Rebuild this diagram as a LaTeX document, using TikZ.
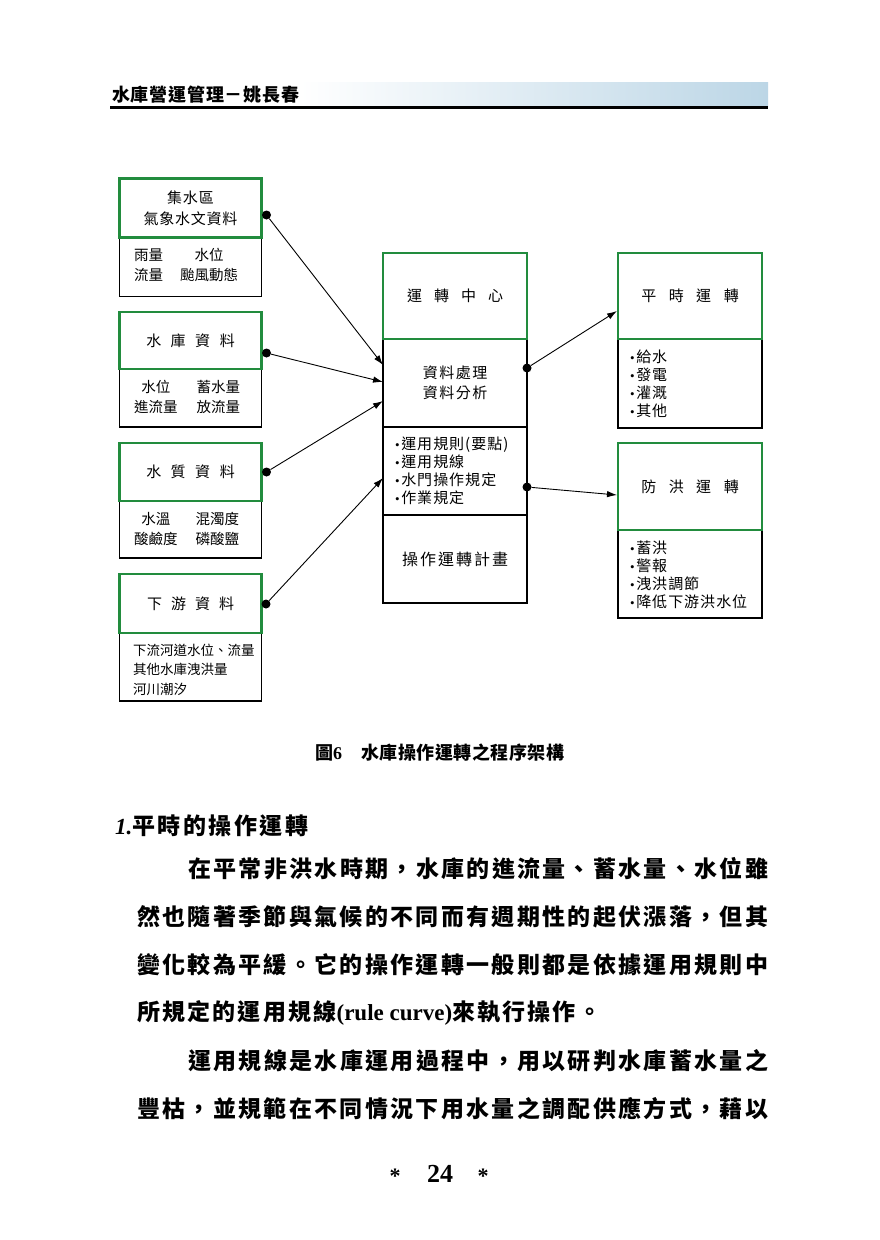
\documentclass[tikz,border=0pt]{standalone}
\usepackage{fontspec}
\setmainfont{Liberation Serif}
\newfontfamily\cjk{Noto Sans CJK TC}
\usetikzlibrary{arrows.meta}
\definecolor{gbord}{RGB}{34,140,62}
\definecolor{hblue}{RGB}{188,214,230}
\newcommand{\fsz}[2]{\fontsize{#1}{#2}\selectfont}
% spread characters with a gap between each pair
\def\spxEnd{SPXEND}
\def\spx#1#2{\def\spxGap{\hspace*{#1}}\spxA#2\spxEnd}
\def\spxA#1{\ifx#1\spxEnd\else#1\expandafter\spxB\fi}
\def\spxB#1{\ifx#1\spxEnd\else\spxGap#1\expandafter\spxB\fi}
\newcommand{\jline}[2]{\makebox[#1][s]{\spx{0pt plus 1fil}{#2}}}
\newcommand{\bl}{{\rmfamily\fsz{13}{13}•}\hspace{1.5pt}}
\newcommand{\bi}[1]{\bl\spx{1pt}{#1}}
\tikzset{
  gbox/.style={draw=gbord, line width=2.8pt, fill=white, inner sep=0pt, align=center},
  kbox/.style={draw=black, line width=1.1pt, fill=white, inner sep=0pt},
  dotn/.style={circle, fill=black, inner sep=0pt, minimum size=9pt},
  arr/.style={draw=black, line width=0.9pt, -{Latex[length=10pt,width=6.5pt]}},
  ttl/.style={font={\cjk\fsz{15}{21}}},
  subtxt/.style={inner sep=0pt, anchor=west, font={\cjk\fsz{14.5}{20}}},
  listtxt/.style={inner sep=0pt, anchor=west, align=left, font={\cjk\fsz{15}{18}}},
  body/.style={inner sep=0pt, anchor=west, font={\cjk\bfseries\fsz{23}{23}}},
}
\begin{document}
\begin{tikzpicture}[x=1pt,y=-1pt]
\useasboundingbox (0,0) rectangle (880,1240);
\fill[white] (0,0) rectangle (880,1240);
% header
\shade[left color=white, right color=hblue] (300,82) rectangle (768,106);
\fill[black] (110,105.5) rectangle (768,108.5);
\node[inner sep=0pt, anchor=west, font={\cjk\bfseries\fsz{18}{18}}] (hdr) at (112,95) {\spx{0.8pt}{水庫營運管理－姚長春}};

% left column
\node[kbox, minimum width=142pt, minimum height=59pt] (s1) at (190.5,267) {};
\node[gbox, minimum width=142pt, minimum height=59pt, ttl] (g1) at (190.5,208) {\spx{0.8pt}{集水區}\\\spx{0.8pt}{氣象水文資料}};
\node[subtxt] (t1) at (134,266.5) {\begin{tabular}{@{}c@{\hspace{17pt}}c@{}}雨量 & 水位\\ 流量 & 颱風動態\end{tabular}};

\node[kbox, minimum width=142pt, minimum height=58pt] (s2) at (190.5,398) {};
\node[gbox, minimum width=142pt, minimum height=57pt, ttl] (g2) at (190.5,340.5) {\spx{9.5pt}{水庫資料}};
\node[subtxt] (t2) at (134,398.5) {\begin{tabular}{@{}c@{\hspace{19pt}}c@{}}水位 & 蓄水量\\ 進流量 & 放流量\end{tabular}};

\node[kbox, minimum width=142pt, minimum height=57pt] (s3) at (190.5,529.5) {};
\node[gbox, minimum width=142pt, minimum height=58pt, ttl] (g3) at (190.5,472) {\spx{9.5pt}{水質資料}};
\node[subtxt] (t3) at (134,530) {\begin{tabular}{@{}c@{\hspace{18pt}}c@{}}水溫 & 混濁度\\ 酸鹼度 & 磷酸鹽\end{tabular}};

\node[kbox, minimum width=142pt, minimum height=68pt] (s4) at (190.5,667) {};
\node[gbox, minimum width=142pt, minimum height=59pt, ttl] (g4) at (190.5,603.5) {\spx{9pt}{下游資料}};
\node[inner sep=0pt, anchor=west, align=left, font={\cjk\fsz{13.5}{19.5}}] (t4) at (133,669.5) {下流河道水位、流量\\其他水庫洩洪量\\河川潮汐};

% center column
\node[kbox, minimum width=144pt, minimum height=88pt, align=center, font={\cjk\fsz{15}{22}}] (c2) at (455,383) {\raisebox{-2pt}{\spx{1.5pt}{資料處理}}\\\spx{1.5pt}{資料分析}};
\node[kbox, minimum width=144pt, minimum height=88pt] (c3) at (455,471) {};
\node[kbox, minimum width=144pt, minimum height=88pt, font={\cjk\fsz{16}{20}}] (c4) at (455,559) {\raisebox{-4pt}{\spx{2pt}{操作運轉計畫}}};
\node[gbox, minimum width=144pt, minimum height=86pt, ttl] (c1) at (455,296) {\raisebox{-4pt}{\spx{12pt}{運轉中心}}};
\node[listtxt] (ct) at (395,470.5) {\bi{運用規則(要點)}\\\bi{運用規線}\\\bi{水門操作規定}\\\bi{作業規定}};

% right column
\node[kbox, minimum width=144pt, minimum height=89pt] (r1s) at (690,383.5) {};
\node[gbox, minimum width=144pt, minimum height=86pt, ttl] (r1) at (690,296) {\raisebox{-2pt}{\spx{12.5pt}{平時運轉}}};
\node[listtxt] (r1t) at (630,383.5) {\bi{給水}\\\bi{發電}\\\bi{灌溉}\\\bi{其他}};

\node[kbox, minimum width=144pt, minimum height=88pt] (r2s) at (690,574) {};
\node[gbox, minimum width=144pt, minimum height=87pt, ttl] (r2) at (690,486.5) {\raisebox{-2pt}{\spx{12.5pt}{防洪運轉}}};
\node[listtxt] (r2t) at (630,574.5) {\bi{蓄洪}\\\bi{警報}\\\bi{洩洪調節}\\\bi{降低下游洪水位}};

% dots and connectors
\node[dotn] (d1) at (266.5,215) {};
\node[dotn] (d2) at (266.5,353) {};
\node[dotn] (d3) at (266.5,472) {};
\node[dotn] (d4) at (266,604) {};
\node[dotn] (d5) at (527,368) {};
\node[dotn] (d6) at (527,487) {};
\coordinate (e1) at (383,365);
\coordinate (e2) at (383,382);
\coordinate (e3) at (383,401);
\coordinate (e4) at (383,478);
\coordinate (e5) at (617,311);
\coordinate (e6) at (617,495);
\draw[arr] (d1) -- (e1);
\draw[arr] (d2) -- (e2);
\draw[arr] (d3) -- (e3);
\draw[arr] (d4) -- (e4);
\draw[arr] (d5) -- (e5);
\draw[arr] (d6) -- (e6);

% caption
\node[inner sep=0pt, anchor=west, font={\cjk\bfseries\fsz{18}{18}}] (cap) at (315,753) {圖{\rmfamily\bfseries 6}\hspace{19pt}\spx{0.5pt}{水庫操作運轉之程序架構}};

% body text
\node[body] (h1) at (115,826) {{\rmfamily\itshape 1.}\spx{2.5pt}{平時的操作運轉}};
\node[body] (l1) at (188,869) {\jline{580pt}{在平常非洪水時期，水庫的進流量、蓄水量、水位雖}};
\node[body] (l2) at (137,917) {\jline{631pt}{然也隨著季節與氣候的不同而有週期性的起伏漲落，但其}};
\node[body] (l3) at (137,965) {\jline{631pt}{變化較為平緩。它的操作運轉一般則都是依據運用規則中}};
\node[body] (l4) at (137,1013) {\spx{2.2pt}{所規定的運用規線}{\rmfamily\bfseries(rule curve)}\spx{2.2pt}{來執行操作。}};
\node[body] (l5) at (188,1061) {\jline{580pt}{運用規線是水庫運用過程中，用以研判水庫蓄水量之}};
\node[body] (l6) at (137,1109) {\jline{631pt}{豐枯，並規範在不同情況下用水量之調配供應方式，藉以}};

% page number
\node[inner sep=0pt, font={\rmfamily\bfseries\fsz{26}{26}}] (pn) at (440,1174) {24};
\node[inner sep=0pt, font={\rmfamily\bfseries\fsz{22}{22}}] (as1) at (395,1176) {*};
\node[inner sep=0pt, font={\rmfamily\bfseries\fsz{22}{22}}] (as2) at (483,1176) {*};
\end{tikzpicture}
\end{document}
